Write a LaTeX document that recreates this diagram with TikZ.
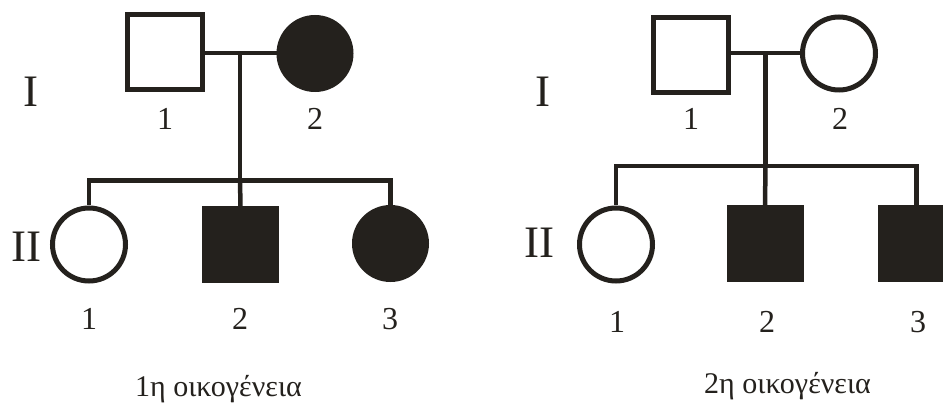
\documentclass[tikz,border=0pt]{standalone}
\usepackage{fontspec}
\setmainfont{Liberation Serif}
\definecolor{ink}{RGB}{36,33,29}
\newcommand\pedRow{\fontsize{45}{50}\selectfont}
\newcommand\pedNum{\fontsize{32}{36}\selectfont}
\newcommand\pedCap{\fontsize{30}{33}\selectfont}
\tikzset{
  male/.style={draw=ink, line width=5pt, rectangle, minimum size=75pt, inner sep=0pt, fill=white},
  female/.style={draw=ink, line width=5pt, circle, minimum size=73pt, inner sep=0pt, fill=white},
  affm/.style={draw=ink, line width=5pt, rectangle, minimum size=72pt, inner sep=0pt, fill=ink},
  afff/.style={draw=ink, line width=5pt, circle, minimum size=72pt, inner sep=0pt, fill=ink},
  conn/.style={draw=ink, line width=4.5pt},
  lbl/.style={text=ink, inner sep=0pt, anchor=base, font=\pedNum},
  gen/.style={text=ink, inner sep=0pt, anchor=base, font=\pedRow},
  famcap/.style={text=ink, inner sep=0pt, anchor=base, font=\pedCap}
}
\begin{document}
\begin{tikzpicture}[x=1pt, y=-1pt]
\clip (0,0) rectangle (943,403);
\fill[white] (0,0) rectangle (943,403);
% ---------- family 1 ----------
\coordinate (lm) at (240,53);
\coordinate (ls) at (240,180.5);
\draw[conn] (165,53) -- (315,53);
\draw[conn] (lm) -- (ls);
\node[male]  (l11) at (165,52.5) {};
\node[afff]  (l12) at (315,53.5) {};
\node[female] (l21) at (89,244.5) {};
\node[affm]  (l22) at (240.5,245) {};
\node[afff]  (l23) at (390.5,243.5) {};
\draw[conn] (l21.north) -- (l21.north |- ls) -- (l23.north |- ls) -- (l23.north);
\draw[conn] (ls) -- (l22.north);
\node[gen] (lI)  at (31,107) {I};
\node[gen] (lII) at (26,262) {II};
\node[lbl] (t11) at (165,130) {1};
\node[lbl] (t12) at (315,130) {2};
\node[lbl] (t21) at (89,330) {1};
\node[lbl] (t22) at (240,330) {2};
\node[lbl] (t23) at (390,330) {3};
\node[famcap] (c1) at (218.5,396) {1η οικογένεια};
% ---------- family 2 ----------
\coordinate (rm) at (765.5,53);
\coordinate (rs) at (765.5,166);
\draw[conn] (691,53) -- (839,53);
\draw[conn] (rm) -- (rs);
\node[male]   (r11) at (691,55.5) {};
\node[female] (r12) at (839,53.5) {};
\node[female] (r21) at (616,244.5) {};
\node[affm]   (r22) at (765,243.5) {};
\node[affm]   (r23) at (916.5,243.5) {};
\draw[conn] (r21.north) -- (r21.north |- rs) -- (r23.north |- rs) -- (r23.north);
\draw[conn] (rs) -- (r22.north);
\node[gen] (rI)  at (543,107) {I};
\node[gen] (rII) at (539,258) {II};
\node[lbl] (s11) at (691,130) {1};
\node[lbl] (s12) at (840,130) {2};
\node[lbl] (s21) at (617,333) {1};
\node[lbl] (s22) at (767,333) {2};
\node[lbl] (s23) at (918,333) {3};
\node[famcap] (c2) at (787.5,394) {2η οικογένεια};
\end{tikzpicture}
\end{document}
